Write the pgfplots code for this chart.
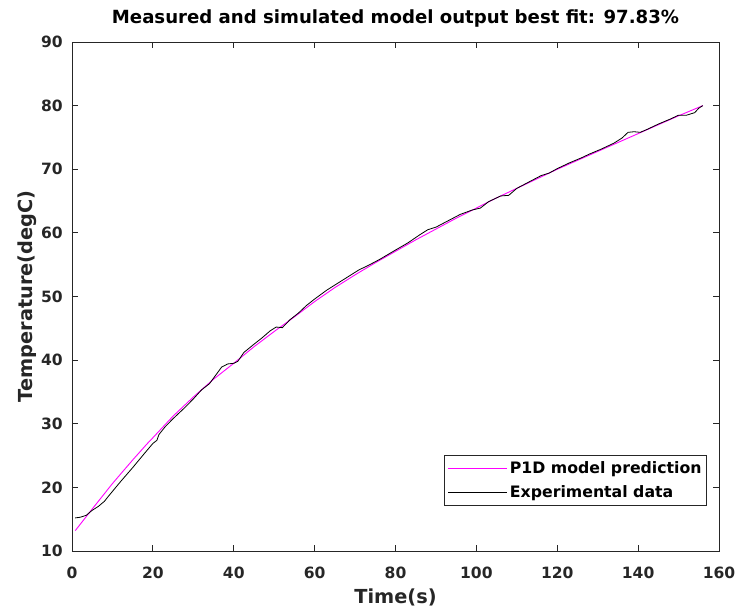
\documentclass[border=0pt]{standalone}
\usepackage{fontspec}
\setmainfont{DejaVu Sans}
\usepackage{pgfplots}
\pgfplotsset{compat=1.18}
\definecolor{axgray}{rgb}{0.15,0.15,0.15}
\definecolor{mag}{rgb}{1,0,1}
\begin{document}
\begin{tikzpicture}
\begin{axis}[
  at={(0,0)}, anchor=south west,
  scale only axis, width=647bp, height=509bp,
  xmin=0, xmax=160, ymin=10, ymax=90,
  xtick={0,20,...,160}, ytick={10,20,...,90},
  tick align=inside, major tick length=6bp,
  axis line style={axgray, line width=0.8bp},
  tick style={axgray, line width=0.8bp},
  /pgf/number format/assume math mode=true,
  ticklabel style={font=\fontsize{15.6}{18}\selectfont\bfseries, text=axgray},
  xticklabel style={anchor=base, yshift=-27bp, inner sep=0pt},
  yticklabel style={anchor=east, xshift=-9bp, inner sep=0pt},
  title={Measured and simulated model output best fit: 97.83\%},
  title style={at={(axis description cs:0.5,1)}, anchor=base, yshift=13bp, font=\fontsize{18.2}{20}\selectfont\bfseries, inner sep=0pt},
  xlabel={Time(s)},
  xlabel style={at={(axis description cs:0.5,0)}, anchor=base, yshift=-52bp, font=\fontsize{19.4}{22}\selectfont\bfseries, text=axgray, inner sep=0pt},
  ylabel={Temperature(degC)},
  ylabel style={at={(axis description cs:-0.0696,0.5)}, anchor=center, font=\fontsize{19.4}{22}\selectfont\bfseries, text=axgray, inner sep=0pt},
  legend style={at={(0.9815,0.1886)}, anchor=north east, draw=axgray, line width=0.8bp,
    font=\fontsize{15.8}{18}\selectfont\bfseries, inner xsep=3bp, inner ysep=4bp, row sep=7bp,
    nodes={inner sep=2bp}},
  legend cell align=left,
  legend image code/.code={\draw[#1, line width=1.2bp] (0bp,0bp) -- (59bp,0bp);},
]
\addplot[color=mag, line width=0.9bp] coordinates {
(0.8,13.2)(5,16.6)(10,20.6)(15,24.3)(18.5,26.8)(20,27.8)(25,31.2)(30,34.2)(35,37.0)
(40,39.5)(45,42.1)(50,44.5)(55,46.8)(60,49.2)(65,51.4)(70,53.4)(75,55.3)(80,57.1)
(85,58.9)(90,60.6)(95,62.3)(100,63.9)(105,65.5)(110,67.0)(115,68.5)(120,70.0)
(125,71.4)(130,72.8)(135,74.2)(140,75.6)(145,77.0)(150,78.4)(156,80.0)
};
\addlegendentry{P1D model prediction}
\addplot[color=black, line width=0.8bp] coordinates {
(0.8,15.2)(2,15.3)(3.5,15.6)(5,16.4)(6.5,17.0)(8,17.8)(9,18.6)(12,20.9)(15,23.1)
(18,25.4)(20,26.9)(21,27.4)(21.5,28.3)(23,29.5)(25,30.8)(27,32.0)(28,32.6)(30,33.9)
(32,35.3)(34,36.3)(35.5,37.6)(37,38.9)(38.5,39.4)(40,39.5)(41,39.8)(42.5,41.2)
(45,42.5)(47,43.5)(49,44.6)(50.5,45.2)(52,45.1)(54,46.4)(56,47.4)(58,48.6)(60,49.6)
(63,51.0)(66,52.2)(68,53.0)(71,54.2)(73,54.8)(76,55.8)(80,57.3)(83,58.4)(86,59.7)
(88,60.5)(90,60.9)(93,61.9)(96,62.9)(99,63.6)(101,63.9)(103,64.9)(106,65.8)(108,65.9)
(110,67.0)(113,68.0)(116,69.0)(118,69.4)(120,70.1)(123,71.0)(126,71.8)(128,72.4)
(131,73.2)(134,74.1)(136,74.9)(137.5,75.8)(139,75.9)(140.5,75.8)(142,76.2)(145,77.1)
(148,77.9)(150,78.5)(152,78.5)(154,78.9)(155,79.6)(156,80.0)
};
\addlegendentry{Experimental data}
\end{axis}
\pgfresetboundingbox
\path (-72bp,-61bp) rectangle (666bp,551bp);
\end{tikzpicture}
\end{document}
